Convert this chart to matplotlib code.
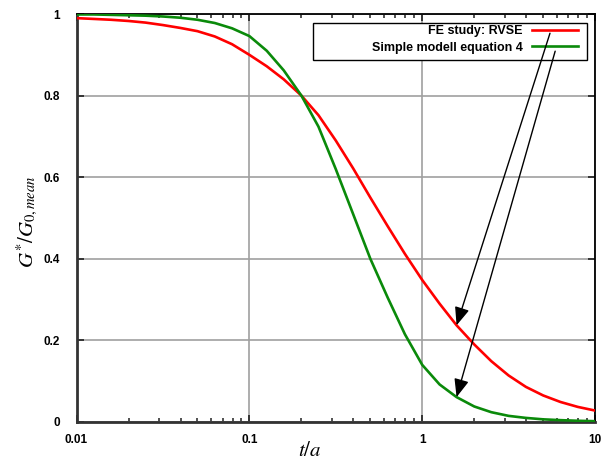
import numpy as np
import matplotlib
matplotlib.use("Agg")
import matplotlib.pyplot as plt
from matplotlib.patches import Rectangle

# values
tRatio = [0.01, 0.0126, 0.0158, 0.02, 0.0251, 0.0316, 0.0398, 0.0501,
		  0.0631, 0.0794, 0.1, 0.126, 0.158, 0.2, 0.251, 0.316, 0.398,
		  0.501, 0.631, 0.794, 1.0, 1.26, 1.58, 2.0, 2.51, 3.16, 3.98,
		  5.01, 6.31, 7.94, 10.0]
feStudy = [0.99, 0.988, 0.986, 0.983, 0.979, 0.973, 0.966, 0.958,
		   0.945, 0.926, 0.90, 0.872, 0.84, 0.80, 0.752, 0.69, 0.622,
		   0.55, 0.48, 0.412, 0.348, 0.29, 0.237, 0.19, 0.149, 0.114, 0.086,
		   0.065, 0.049, 0.037, 0.028]
simpleModel = [0.999, 0.999, 0.998, 0.997, 0.996, 0.994, 0.991, 0.986,
			   0.978, 0.965, 0.946, 0.91, 0.862, 0.80, 0.724, 0.62, 0.51,
			   0.40, 0.305, 0.215, 0.14, 0.092, 0.061, 0.038, 0.024, 0.015,
			   0.01, 0.0065, 0.0045, 0.003, 0.002]
seriesNames = ["FE study: RVSE", "Simple modell equation 4"]
xTicks = [0.01, 0.1, 1, 10]
xTickLabels = ["0.01", "0.1", "1", "10"]
yTicks = [0, 0.2, 0.4, 0.6, 0.8, 1]
yTickLabels = ["0", "0.2", "0.4", "0.6", "0.8", "1"]
arrowAt = 1.58  # t/a where both arrows land

plt.rcParams["mathtext.fontset"] = "stix"

fig = plt.figure(figsize=(6.03, 4.62), dpi=100)
ax = fig.add_axes([0.1269, 0.0866, 0.860, 0.883])

ax.plot(tRatio, feStudy, color="#ff0000", lw=1.9, label=seriesNames[0], zorder=3)
ax.plot(tRatio, simpleModel, color="#0a8a0a", lw=1.9, label=seriesNames[1], zorder=3)

ax.set_xscale("log")
ax.set_xlim(0.01, 10)
ax.set_ylim(0, 1)
ax.set_xticks(xTicks)
ax.set_xticklabels(xTickLabels)
ax.set_yticks(yTicks)
ax.set_yticklabels(yTickLabels)
ax.yaxis.set_minor_locator(matplotlib.ticker.NullLocator())

for lab in ax.get_xticklabels() + ax.get_yticklabels():
	lab.set_family("Liberation Sans")
	lab.set_fontweight("bold")
	lab.set_fontsize(8.5)

ax.tick_params(which="both", direction="in", top=True, right=True, color="#202020")
ax.tick_params(which="major", length=5, width=1.2)
ax.tick_params(which="minor", length=3, width=1.1)
ax.tick_params(axis="x", pad=9)
ax.tick_params(axis="y", pad=12)

ax.grid(True, which="major", color="#a0a0a0", lw=1.2, zorder=1)
ax.set_axisbelow(True)

for side in ["left", "bottom"]:
	ax.spines[side].set_linewidth(2.0)
	ax.spines[side].set_color("#333333")
for side in ["top", "right"]:
	ax.spines[side].set_linewidth(1.3)
	ax.spines[side].set_color("black")

ax.set_xlabel(r"$t/a$", fontsize=15, labelpad=0)
ax.xaxis.set_label_coords(0.45, -0.045)
ax.set_ylabel(r"$G^{*}/G_{0,mean}$", fontsize=15)
ax.yaxis.set_label_coords(-0.07, 0.49)

# legend: framed box drawn by hand, entries right aligned (gnuplot look)
ax.add_patch(Rectangle((0.456, 0.887), 0.5286, 0.091, transform=ax.transAxes,
					   facecolor="white", edgecolor="black", lw=1.0, zorder=4))
leg = ax.legend(loc="upper right", bbox_to_anchor=(0.967, 0.972), frameon=False,
				markerfirst=False, handlelength=3.7, handletextpad=0.7,
				labelspacing=0.35, borderpad=0, borderaxespad=0,
				prop={"family": "Liberation Sans", "weight": "bold", "size": 9})
leg.set_zorder(5)

i = tRatio.index(arrowAt)
tails = [(0.913, 0.953), (0.923, 0.909)]
for vals, tail in zip([feStudy, simpleModel], tails):
	ax.annotate("", xy=(tRatio[i], vals[i]), xycoords="data",
				xytext=tail, textcoords="axes fraction",
				arrowprops=dict(arrowstyle="-|>,head_length=1.1,head_width=0.45",
								color="black", lw=1.0, shrinkA=0, shrinkB=0),
				zorder=6)

fig.savefig("out.png", dpi=100)
